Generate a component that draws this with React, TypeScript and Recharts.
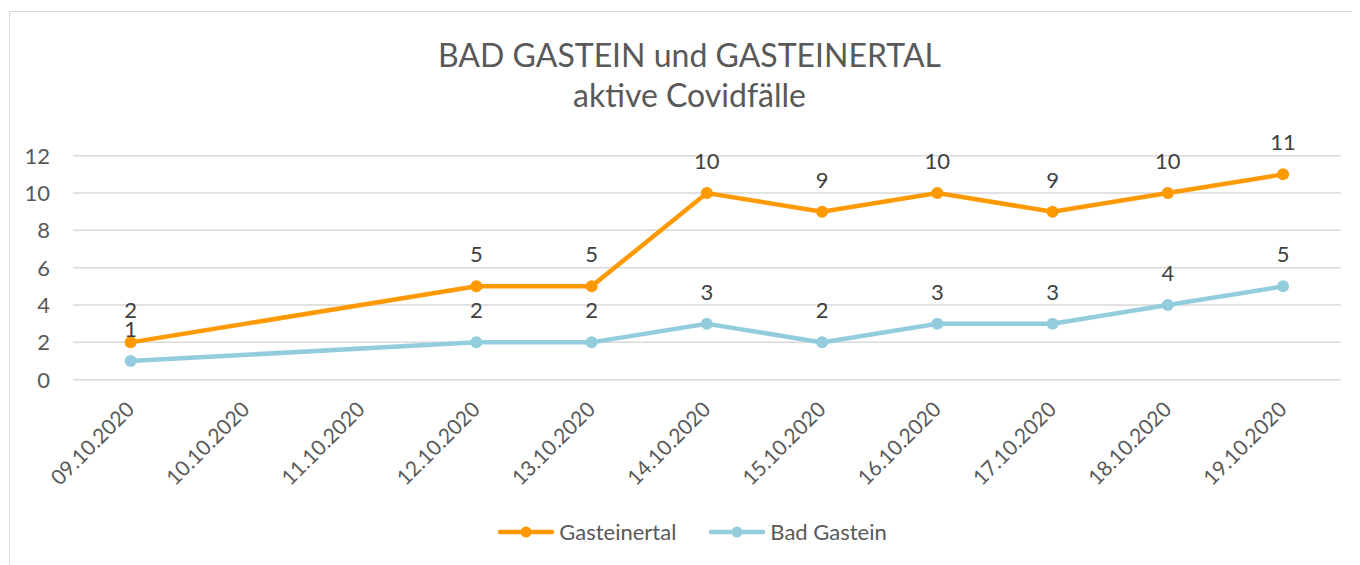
import {
  LineChart,
  Line,
  XAxis,
  YAxis,
  CartesianGrid,
  LabelList,
  Legend,
} from "recharts";

const dates = [
  "09.10.2020",
  "10.10.2020",
  "11.10.2020",
  "12.10.2020",
  "13.10.2020",
  "14.10.2020",
  "15.10.2020",
  "16.10.2020",
  "17.10.2020",
  "18.10.2020",
  "19.10.2020",
];
const gasteinertal = [2, null, null, 5, 5, 10, 9, 10, 9, 10, 11];
const badGastein = [1, null, null, 2, 2, 3, 2, 3, 3, 4, 5];
const yTicks = [0, 2, 4, 6, 8, 10, 12];

const ORANGE = "#ff9900";
const BLUE = "#93cddd";
const FONT = "Lato, 'Open Sans', sans-serif";

const data = dates.map((d, i) => ({
  date: d,
  Gasteinertal: gasteinertal[i],
  "Bad Gastein": badGastein[i],
}));

function DateTick({ x, y, payload }: any) {
  const tx = x + 5;
  const ty = y + 23;
  return (
    <text
      x={tx}
      y={ty}
      transform={`rotate(-45, ${tx}, ${ty})`}
      textAnchor="end"
      fill="#595959"
      fontSize={21}
      fontFamily={FONT}
    >
      {payload.value}
    </text>
  );
}

function ValueLabel({ x, y, value }: any) {
  if (value === null || value === undefined) return null;
  return (
    <text
      x={x}
      y={y - 24}
      textAnchor="middle"
      fill="#404040"
      fontSize={22}
      fontFamily={FONT}
    >
      {value}
    </text>
  );
}

function ChartLegend() {
  const items = [
    { name: "Gasteinertal", color: ORANGE },
    { name: "Bad Gastein", color: BLUE },
  ];
  return (
    <div
      style={{
        display: "flex",
        justifyContent: "center",
        gap: 32,
        paddingLeft: 16,
      }}
    >
      {items.map((it) => (
        <div key={it.name} style={{ display: "flex", alignItems: "center" }}>
          <svg width={58} height={14}>
            <line
              x1={3}
              y1={7}
              x2={55}
              y2={7}
              stroke={it.color}
              strokeWidth={4.5}
              strokeLinecap="round"
            />
            <circle cx={29} cy={7} r={5.5} fill={it.color} />
          </svg>
          <span
            style={{
              marginLeft: 4,
              fontFamily: FONT,
              fontSize: 22,
              color: "#595959",
            }}
          >
            {it.name}
          </span>
        </div>
      ))}
    </div>
  );
}

export default function App() {
  return (
    <div
      style={{
        position: "relative",
        width: 1352,
        height: 557,
        overflow: "hidden",
        background: "#fff",
      }}
    >
      {/* chart frame, right and bottom edges run off the picture */}
      <div
        style={{
          position: "absolute",
          left: 1,
          top: 3,
          width: 1400,
          height: 600,
          border: "1.5px solid #d9d9d9",
        }}
      />

      <svg
        width={1352}
        height={130}
        style={{ position: "absolute", left: 0, top: 0 }}
      >
        <text
          x={681.5}
          y={59.3}
          textAnchor="middle"
          fill="#595959"
          fontSize={32}
          fontFamily={FONT}
        >
          BAD GASTEIN und GASTEINERTAL
        </text>
        <text
          x={681.5}
          y={99}
          textAnchor="middle"
          fill="#595959"
          fontSize={32}
          fontFamily={FONT}
        >
          aktive Covidfälle
        </text>
      </svg>

      <div style={{ position: "absolute", left: 0, top: 0 }}>
        <LineChart
          width={1352}
          height={557}
          data={data}
          margin={{ top: 147.7, right: 19.3, left: 0, bottom: 0 }}
        >
          <CartesianGrid
            vertical={false}
            stroke="#d9d9d9"
            strokeWidth={1.5}
          />
          <XAxis
            dataKey="date"
            height={185.3}
            padding={{ left: 57.65, right: 57.65 }}
            axisLine={false}
            tickLine={false}
            interval={0}
            tick={<DateTick />}
          />
          <YAxis
            width={65}
            domain={[0, 12]}
            ticks={yTicks}
            axisLine={false}
            tickLine={false}
            tickSize={0}
            tickMargin={23}
            tick={{ fill: "#595959", fontSize: 22, fontFamily: FONT }}
          />
          <Legend
            verticalAlign="middle"
            align="center"
            layout="horizontal"
            wrapperStyle={{ top: 510, left: 0, width: 1352 }}
            content={<ChartLegend />}
          />
          <Line
            type="linear"
            dataKey="Gasteinertal"
            stroke={ORANGE}
            strokeWidth={4.5}
            connectNulls
            dot={{ r: 6, fill: ORANGE, stroke: "none" }}
            activeDot={false}
            isAnimationActive={false}
          >
            <LabelList dataKey="Gasteinertal" content={<ValueLabel />} />
          </Line>
          <Line
            type="linear"
            dataKey="Bad Gastein"
            stroke={BLUE}
            strokeWidth={4.5}
            connectNulls
            dot={{ r: 6, fill: BLUE, stroke: "none" }}
            activeDot={false}
            isAnimationActive={false}
          >
            <LabelList dataKey="Bad Gastein" content={<ValueLabel />} />
          </Line>
        </LineChart>
      </div>
    </div>
  );
}
